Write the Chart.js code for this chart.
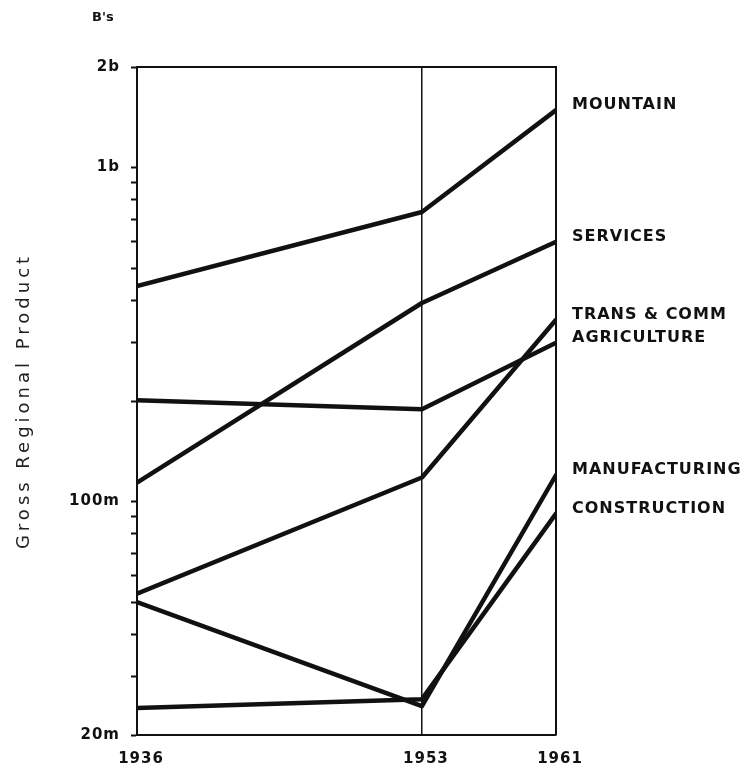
<!DOCTYPE html>
<html>
<head>
<meta charset="utf-8">
<script src="https://cdn.jsdelivr.net/npm/chart.js@4.4.1/dist/chart.umd.min.js"></script>
<style>
  html, body { margin: 0; padding: 0; background: #fff; }
  #chart { display: block; }
</style>
</head>
<body>
<canvas id="chart" width="746" height="769"></canvas>
<script>
// years on the x axis
const years = [1936, 1953, 1961];

// gross regional product by sector, millions
const sectorNames = ['MOUNTAIN', 'SERVICES', 'TRANS & COMM', 'AGRICULTURE', 'MANUFACTURING', 'CONSTRUCTION'];
const mountain = [442, 736, 1486];
const services = [114, 393, 599];
const transComm = [53, 118, 350];
const agriculture = [201, 189, 299];
const manufacturing = [50, 24.4, 120];
const construction = [24.1, 25.6, 92];

// log axis ticks
const yTickValues = [20, 30, 40, 50, 60, 70, 80, 90, 100, 200, 300, 400, 500, 600, 700, 800, 900, 1000, 2000];
const labeledTicks = [20, 100, 1000, 2000];
const labeledTickText = ['20m', '100m', '1b', '2b'];

const seriesValues = [mountain, services, transComm, agriculture, manufacturing, construction];

const ink = '#111';

const decor = {
  id: 'decor',
  beforeDraw(chart) {
    chart.ctx.letterSpacing = '1px';
  },
  afterDraw(chart) {
    const { ctx, chartArea: a, scales } = chart;
    ctx.save();
    // top and right frame
    ctx.strokeStyle = ink;
    ctx.lineWidth = 2;
    ctx.beginPath();
    ctx.moveTo(a.left, a.top);
    ctx.lineTo(a.right, a.top);
    ctx.lineTo(a.right, a.bottom);
    ctx.stroke();

    // sector names next to line ends
    ctx.fillStyle = ink;
    ctx.font = 'bold 16px "DejaVu Sans"';
    ctx.letterSpacing = '1px';
    ctx.textAlign = 'left';
    ctx.textBaseline = 'middle';
    chart.data.datasets.forEach(ds => {
      const last = ds.data[ds.data.length - 1];
      ctx.fillText(ds.label, a.right + 16, scales.y.getPixelForValue(last.y) - 5);
    });

    // unit
    ctx.font = 'bold 13px "DejaVu Sans"';
    ctx.letterSpacing = '0px';
    ctx.fillText("B's", 92, 18);

    // y title
    ctx.translate(24, (a.top + a.bottom) / 2);
    ctx.rotate(-Math.PI / 2);
    ctx.textAlign = 'center';
    ctx.font = '18px "DejaVu Sans"';
    ctx.letterSpacing = '4px';
    ctx.fillStyle = '#222';
    ctx.fillText('Gross Regional Product', 0, 0);
    ctx.restore();
  }
};

const datasets = sectorNames.map((name, i) => ({
  label: name,
  data: years.map((yr, j) => ({ x: yr, y: seriesValues[i][j] })),
  borderColor: ink,
  backgroundColor: ink,
  borderWidth: 4.5,
  pointRadius: 0,
  tension: 0,
  fill: false
}));

const tickFont = { family: 'DejaVu Sans', weight: 'bold', size: 15 };

new Chart(document.getElementById('chart').getContext('2d'), {
  type: 'line',
  data: { datasets: datasets },
  plugins: [decor],
  options: {
    responsive: false,
    animation: false,
    layout: { padding: { left: 0, right: 190, top: 67, bottom: 0 } },
    plugins: {
      legend: { display: false },
      tooltip: { enabled: false }
    },
    elements: {
      line: { borderCapStyle: 'round', borderJoinStyle: 'round' }
    },
    scales: {
      x: {
        type: 'linear',
        min: 1936,
        max: 1961,
        afterBuildTicks: s => { s.ticks = years.map(v => ({ value: v })); },
        afterFit: s => { s.height = 34; },
        grid: { drawOnChartArea: true, drawTicks: false, color: ink, lineWidth: 1.5 },
        border: { color: ink, width: 2 },
        ticks: {
          color: ink,
          font: tickFont,
          padding: 15,
          labelOffset: 4,
          autoSkip: false,
          maxRotation: 0,
          callback: v => String(v)
        }
      },
      y: {
        type: 'logarithmic',
        min: 20,
        max: 2000,
        afterBuildTicks: s => { s.ticks = yTickValues.map(v => ({ value: v })); },
        afterFit: s => { s.width = 137; },
        grid: { drawOnChartArea: false, drawTicks: true, tickLength: 6, tickColor: ink, tickWidth: 2 },
        border: { color: ink, width: 2 },
        ticks: {
          color: ink,
          font: tickFont,
          padding: 11,
          autoSkip: false,
          callback: v => {
            const i = labeledTicks.indexOf(v);
            return i < 0 ? '' : labeledTickText[i];
          }
        }
      }
    }
  }
});
</script>
</body>
</html>
